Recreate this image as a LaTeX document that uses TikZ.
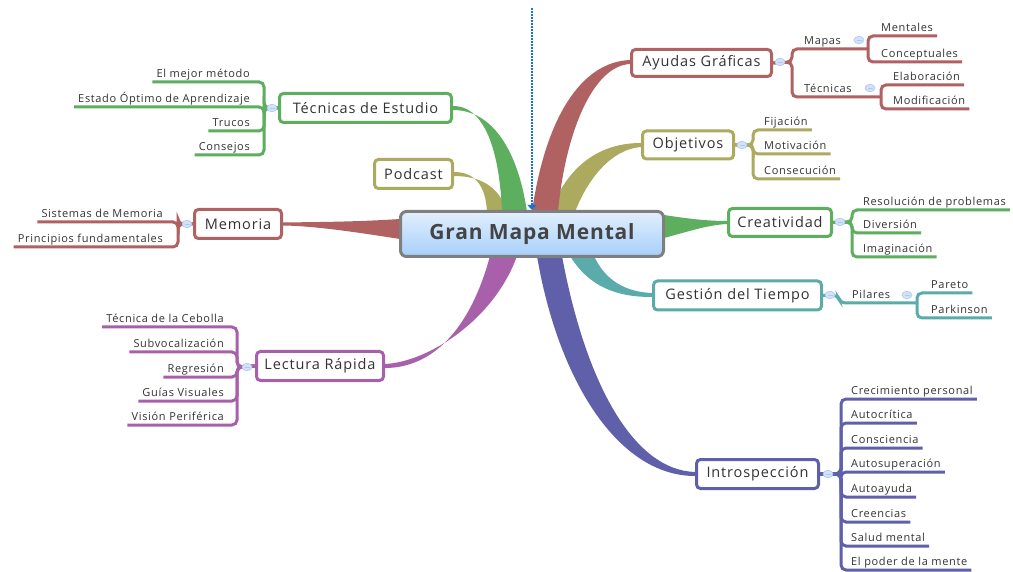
\documentclass[tikz,border=0pt]{standalone}
\usepackage{fontspec}
\setmainfont{Open Sans}
\newfontfamily\kidfont[LetterSpace=6]{Open Sans}
\newfontfamily\mainfont[LetterSpace=6]{Open Sans}
\newfontfamily\cenfont[LetterSpace=4]{Open Sans}
\usetikzlibrary{shapes.geometric,arrows.meta}
\definecolor{cred}{HTML}{B06262}
\definecolor{colive}{HTML}{ABAA5E}
\definecolor{cgreen}{HTML}{5DAE5F}
\definecolor{cteal}{HTML}{5BABAA}
\definecolor{cindigo}{HTML}{6060AA}
\definecolor{cpurple}{HTML}{A860AA}
\definecolor{txt}{HTML}{333333}
\definecolor{txtb}{HTML}{444444}
\definecolor{cgray}{HTML}{7F7F7F}
\definecolor{ctop}{HTML}{E2EFFD}
\definecolor{cbot}{HTML}{A6CFFB}
\definecolor{togf}{HTML}{D3E2F8}
\definecolor{togb}{HTML}{AFC8EE}
\definecolor{cblue}{HTML}{1F6FD8}
\tikzset{
 mainbox/.style={draw=#1, line width=3pt, rounded corners=4pt, fill=white, inner sep=0pt, font=\mainfont\fontsize{14.5}{17}\selectfont, text=txt},
 kid/.style={inner xsep=4pt, inner ysep=1.5pt, text height=8pt, text depth=2.5pt, font=\kidfont\fontsize{11}{13}\selectfont, text=txt},
 sub/.style={draw=#1, line width=3pt, rounded corners=5pt},
 tog/.style={ellipse, draw=togb, fill=togf, line width=0.6pt, minimum width=10pt, minimum height=7.5pt, inner sep=0pt,
   path picture={\draw[togb, line width=0.8pt] ([xshift=-2.5pt]path picture bounding box.center) -- ([xshift=2.5pt]path picture bounding box.center);}},
 dotarrow/.style={draw=cblue, line width=2.4pt, dash pattern=on 1.6pt off 1.4pt, -{Triangle[length=5pt,width=9pt]}},
}
\begin{document}
\begin{tikzpicture}[x=1pt,y=-1pt]
\useasboundingbox (0,0) rectangle (1013,572);
\fill[white] (0,0) rectangle (1013,572);
\begin{scope}
\clip (0,0) rectangle (1013,572);
% ---- tapered main branches ----
\fill[colive] (454,172) .. controls (478,172) and (486,190) .. (487,212) -- (507,212) .. controls (500,188) and (482,176) .. (454,176) -- cycle;
\fill[cgreen] (453,106) .. controls (488,106) and (500,160) .. (502,212) -- (527,212) .. controls (518,150) and (492,110) .. (453,110) -- cycle;
\fill[colive] (641,143) .. controls (600,143) and (568,165) .. (550,212) -- (575,212) .. controls (588,178) and (612,149) .. (641,147) -- cycle;
\fill[cred] (630,60) .. controls (580,62) and (545,120) .. (532,212) -- (558,212) .. controls (565,135) and (592,66) .. (630,64) -- cycle;
\fill[cgreen] (664,215) .. controls (690,219) and (708,221) .. (727,221) -- (727,224) .. controls (708,225) and (690,231) .. (664,238) -- cycle;
\fill[cred] (400,219) .. controls (355,222) and (315,222) .. (283,222.5) -- (283,225.5) .. controls (315,226) and (355,232) .. (400,239) -- cycle;
\fill[cteal] (570,256) .. controls (590,288) and (618,297) .. (652,297) -- (652,293) .. controls (625,292) and (605,280) .. (594,256) -- cycle;
\fill[cindigo] (537,256) .. controls (558,380) and (618,476) .. (695,476) -- (695,472) .. controls (632,470) and (585,380) .. (562,256) -- cycle;
\fill[cpurple] (490,256) .. controls (470,330) and (432,368) .. (385,368) -- (385,364) .. controls (428,362) and (494,320) .. (517,256) -- cycle;

% ---- centre ----
\node[draw=cgray, line width=3pt, rounded corners=6pt, top color=ctop, bottom color=cbot,
  minimum width=263pt, minimum height=45pt, inner sep=0pt,
  font=\cenfont\bfseries\fontsize{21}{24}\selectfont, text=txtb] (center) at (532,234) {Gran Mapa Mental};
\coordinate (topc) at (532,8);
\draw[dotarrow] (topc) -- (center.north);

% ---- main nodes ----
\node[mainbox=cred, minimum width=140pt, minimum height=27pt] (ayudas) at (701.5,63) {Ayudas Gráficas};
\node[mainbox=colive, minimum width=91pt, minimum height=28pt] (objetivos) at (688,145) {Objetivos};
\node[mainbox=cgreen, minimum width=103pt, minimum height=28pt] (creat) at (780,222.5) {Creatividad};
\node[mainbox=cteal, minimum width=168pt, minimum height=29pt] (gestion) at (737.5,295.5) {Gestión del Tiempo};
\node[mainbox=cindigo, minimum width=122pt, minimum height=29pt] (intro) at (757.5,474) {Introspección};
\node[mainbox=cgreen, minimum width=172pt, minimum height=29pt] (tecest) at (365.5,108) {Técnicas de Estudio};
\node[mainbox=colive, minimum width=78pt, minimum height=29pt] (podcast) at (413.5,174) {Podcast};
\node[mainbox=cred, minimum width=87pt, minimum height=29pt] (memoria) at (238,224) {Memoria};
\node[mainbox=cpurple, minimum width=127pt, minimum height=29pt] (lectura) at (320,366) {Lectura Rápida};

% ---- Ayudas Gráficas ----
\node[kid, anchor=south west] (mapas) at (800,49) {Mapas};
\node[kid, anchor=south west] (mentales) at (877,36) {Mentales};
\node[kid, anchor=south west] (concep) at (877,62) {Conceptuales};
\node[kid, anchor=south west] (tecnicas) at (800,97) {Técnicas};
\node[kid, anchor=south west] (elab) at (889,85) {Elaboración};
\node[kid, anchor=south west] (modif) at (889,109) {Modificación};
\coordinate (jMapas) at (868,49);
\coordinate (jTec) at (881,97);
\draw[sub=cred] (ayudas.east) -- (792,62) -- (792,49) -- (jMapas);
\draw[sub=cred] (ayudas.east) -- (792,62) -- (792,97) -- (jTec);
\draw[sub=cred] (jMapas) -- (868,36) -- (mentales.south east);
\draw[sub=cred] (jMapas) -- (868,62) -- (concep.south east);
\draw[sub=cred] (jTec) -- (881,85) -- (elab.south east);
\draw[sub=cred] (jTec) -- (881,109) -- (modif.south east);
\node[tog] (tA) at (780,62) {};
\node[tog] (tMapas) at (859,40) {};
\node[tog] (tTec) at (870,88) {};

% ---- Objetivos ----
\node[kid, anchor=south west] (fij) at (760,130) {Fijación};
\node[kid, anchor=south west] (mot) at (760,154) {Motivación};
\node[kid, anchor=south west] (cons) at (760,179) {Consecución};
\draw[sub=colive] (objetivos.east) -- (753,145) -- (753,130) -- (fij.south east);
\draw[sub=colive] (objetivos.east) -- (753,145) -- (753,154) -- (mot.south east);
\draw[sub=colive] (objetivos.east) -- (753,145) -- (753,179) -- (cons.south east);
\node[tog] (tO) at (742,145) {};

% ---- Creatividad ----
\node[kid, anchor=south west] (reso) at (859,210) {Resolución de problemas};
\node[kid, anchor=south west] (diver) at (859,233) {Diversión};
\node[kid, anchor=south west] (imag) at (859,257) {Imaginación};
\draw[sub=cgreen] (creat.east) -- (852,222) -- (852,210) -- (reso.south east);
\draw[sub=cgreen] (creat.east) -- (852,222) -- (852,233) -- (diver.south east);
\draw[sub=cgreen] (creat.east) -- (852,222) -- (852,257) -- (imag.south east);
\node[tog] (tC) at (840,222) {};

% ---- Gestión del Tiempo ----
\node[kid, anchor=south west] (pilares) at (848,303) {Pilares};
\node[kid, anchor=south west] (pareto) at (927,293) {Pareto};
\node[kid, anchor=south west] (parkinson) at (927,318) {Parkinson};
\coordinate (jP) at (917,303);
\draw[sub=cteal] (gestion.east) -- (838,295) -- (840,303) -- (jP);
\draw[sub=cteal] (jP) -- (917,293) -- (pareto.south east);
\draw[sub=cteal] (jP) -- (917,318) -- (parkinson.south east);
\node[tog] (tG) at (830,295) {};
\node[tog] (tP) at (907,295) {};

% ---- Introspección ----
\foreach \n/\t/\yy in {i1/Crecimiento personal/399, i2/Autocrítica/423, i3/Consciencia/448, i4/Autosuperación/472,
  i5/Autoayuda/497, i6/Creencias/522, i7/Salud mental/546, i8/El poder de la mente/570}{
  \node[kid, anchor=south west] (\n) at (847,\yy) {\t};
  \draw[sub=cindigo] (intro.east) -- (841,474) -- (841,\yy) -- (\n.south east);
}
\node[tog] (tI) at (828,474) {};

% ---- Técnicas de Estudio ----
\foreach \n/\t/\yy in {t1/El mejor método/82, t2/Estado Óptimo de Aprendizaje/107, t3/Trucos/131, t4/Consejos/155}{
  \node[kid, anchor=south east] (\n) at (254,\yy) {\t};
  \draw[sub=cgreen] (tecest.west) -- (264,108) -- (264,\yy) -- (\n.south west);
}
\node[tog] (tT) at (272,108) {};

% ---- Memoria ----
\foreach \n/\t/\yy in {m1/Sistemas de Memoria/222, m2/Principios fundamentales/247}{
  \node[kid, anchor=south east] (\n) at (167,\yy) {\t};
  \draw[sub=cred] (memoria.west) -- (178,224) -- (178,\yy) -- (\n.south west);
}
\node[tog] (tM) at (187,224) {};

% ---- Lectura Rápida ----
\foreach \n/\t/\yy in {l1/Técnica de la Cebolla/327, l2/Subvocalización/352, l3/Regresión/377, l4/Guías Visuales/401, l5/Visión Periférica/425}{
  \node[kid, anchor=south east] (\n) at (228,\yy) {\t};
  \draw[sub=cpurple] (lectura.west) -- (237,367) -- (237,\yy) -- (\n.south west);
}
\node[tog] (tL) at (247,367) {};
\end{scope}
\end{tikzpicture}
\end{document}
